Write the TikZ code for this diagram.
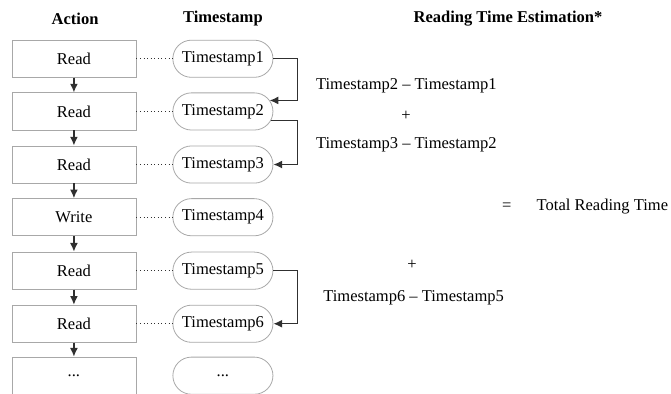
\documentclass[tikz,border=0pt]{standalone}
\usepackage{fontspec}
\setmainfont{Liberation Serif}
\usetikzlibrary{arrows.meta}

\definecolor{boxgray}{HTML}{A8A8A8}
\definecolor{linegray}{HTML}{303030}

\tikzset{
    action/.style={draw=boxgray, line width=0.6pt, minimum width=3.27cm, minimum height=0.98cm},
    stamp/.style={draw=boxgray, line width=0.6pt, rounded corners=0.49cm, minimum width=2.64cm, minimum height=0.98cm},
    header/.style={font=\fontsize{12.4}{15}\selectfont\bfseries},
    flow/.style={-{Latex[length=2.3mm,width=2.1mm]}, draw=linegray, line width=1.1pt},
    link/.style={draw=linegray, dotted, line width=0.7pt}
}

\begin{document}
\begin{tikzpicture}[font=\fontsize{12.4}{15}\selectfont]
            \useasboundingbox (0,0) rectangle (17.70,10.37);

            \node[header] (Action) at (1.98,9.87) {Action};
            \node[header] (Timestamp) at (5.88,9.87) {Timestamp};
            \node[header] (Estimation) at (13.40,9.87) {Reading Time Estimation*};

            \node[action] (Read1) at (1.95,8.82) {Read};
            \node[action] (Read2) at (1.95,7.43) {Read};
            \node[action] (Read3) at (1.95,6.03) {Read};
            \node[action] (Write) at (1.95,4.64) {Write};
            \node[action] (Read5) at (1.95,3.23) {Read};
            \node[action] (Read6) at (1.95,1.83) {Read};
            \node[action] (More) at (1.95,0.46) {...};

            \node[stamp] (Stamp1) at (5.88,8.82) {Timestamp1};
            \node[stamp] (Stamp2) at (5.88,7.43) {Timestamp2};
            \node[stamp] (Stamp3) at (5.88,6.03) {Timestamp3};
            \node[stamp] (Stamp4) at (5.88,4.64) {Timestamp4};
            \node[stamp] (Stamp5) at (5.88,3.23) {Timestamp5};
            \node[stamp] (Stamp6) at (5.88,1.83) {Timestamp6};
            \node[stamp] (StampMore) at (5.88,0.46) {...};

            \node (Diff1) at (10.72,8.10) {Timestamp2 -- Timestamp1};
            \node (Plus1) at (10.71,7.31) {+};
            \node (Diff2) at (10.72,6.54) {Timestamp3 -- Timestamp2};
            \node (Equals) at (13.37,4.91) {=};
            \node (Total) at (15.89,4.91) {Total Reading Time};
            \node (Plus2) at (10.87,3.38) {+};
            \node (Diff3) at (10.91,2.51) {Timestamp6 -- Timestamp5};

            \draw[flow] (Read1) to (Read2);
            \draw[flow] (Read2) to (Read3);
            \draw[flow] (Read3) to (Write);
            \draw[flow] (Write) to (Read5);
            \draw[flow] (Read5) to (Read6);
            \draw[flow] (Read6) to (More);

            \draw[link] (Read1) to (Stamp1);
            \draw[link] (Read2) to (Stamp2);
            \draw[link] (Read3) to (Stamp3);
            \draw[link] (Write) to (Stamp4);
            \draw[link] (Read5) to (Stamp5);
            \draw[link] (Read6) to (Stamp6);

            \draw[flow] (Stamp1.east) -- ++(0.63,0) |- ([xshift=-0.1cm,yshift=0.29cm]Stamp2.east);
            \draw[flow] ([xshift=-0.07cm,yshift=-0.24cm]Stamp2.east) -| ([xshift=0.63cm]Stamp3.east) -- (Stamp3.east);
            \draw[flow] (Stamp5.east) -- ++(0.63,0) |- (Stamp6.east);
        \end{tikzpicture}
\end{document}
